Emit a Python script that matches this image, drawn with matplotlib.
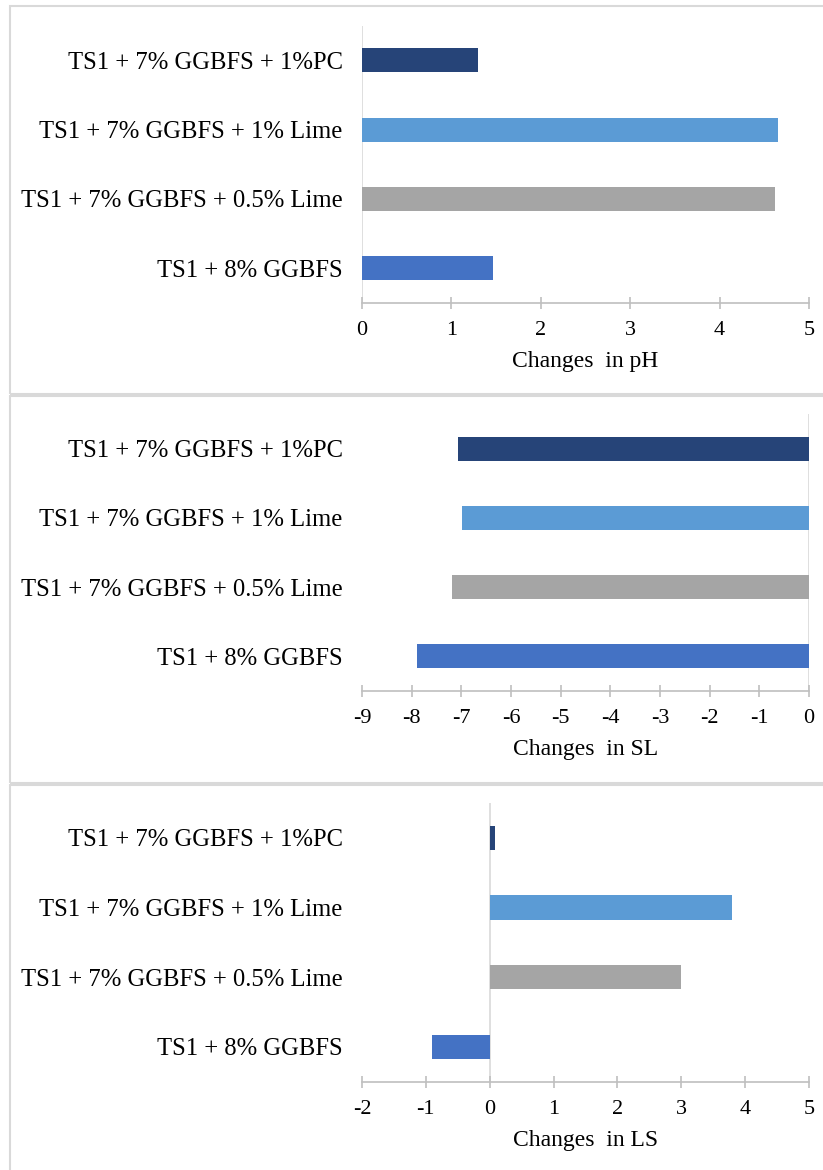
import matplotlib
matplotlib.use("Agg")
import matplotlib.pyplot as plt
from matplotlib.patches import Rectangle

plt.rcParams['font.family'] = ['Liberation Serif', 'DejaVu Serif']
plt.rcParams['axes.unicode_minus'] = False

# mixes, listed bottom to top as they appear on the chart
mixes = ["TS1 + 8% GGBFS",
         "TS1 + 7% GGBFS + 0.5% Lime",
         "TS1 + 7% GGBFS + 1% Lime",
         "TS1 + 7% GGBFS + 1%PC"]
colors = ["#4472C4", "#A5A5A5", "#5B9BD5", "#264478"]

ph_change = [1.46, 4.62, 4.65, 1.30]
sl_change = [-7.90, -7.19, -6.99, -7.06]
ls_change = [-0.91, 3.00, 3.80, 0.09]

panels = [
    (ph_change, "Changes  in pH", (0, 5), range(0, 6)),
    (sl_change, "Changes  in SL", (-9, 0), range(-9, 1)),
    (ls_change, "Changes  in LS", (-2, 5), range(-2, 6)),
]

W, H = 823, 1170
fig = plt.figure(figsize=(W / 100, H / 100), dpi=100)

# axes boxes in pixels: (top, bottom); boxes around each chart: (top, bottom)
ax_rows = [(25.6, 303), (414, 691), (803, 1081.7)]
frames = [(6, 394), (396, 783), (785, 1200)]
ax_left, ax_right = 362, 809

for (top, bot) in frames:
    fig.patches.append(Rectangle((10 / W, 1 - bot / H), 900 / W, (bot - top) / H,
                                 transform=fig.transFigure, fill=False,
                                 edgecolor="#D9D9D9", linewidth=1.5, zorder=0))

for (vals, label, xlim, ticks), (top, bot) in zip(panels, ax_rows):
    ax = fig.add_axes([ax_left / W, 1 - bot / H, (ax_right - ax_left) / W, (bot - top) / H])
    ax.barh(range(len(mixes)), vals, height=0.345, color=colors, zorder=3)
    ax.set_xlim(*xlim)
    ax.set_ylim(-0.5, 3.5)
    ax.set_xticks(list(ticks))
    ax.set_yticks(range(len(mixes)))
    ax.set_yticklabels(mixes)
    ax.axvline(0, color="#D9D9D9", linewidth=1.2, zorder=1)
    for s in ("top", "right", "left"):
        ax.spines[s].set_visible(False)
    ax.spines["bottom"].set_color("#BFBFBF")
    ax.spines["bottom"].set_linewidth(1.2)
    ax.tick_params(axis="y", length=0, pad=14, labelsize=17.7)
    ax.tick_params(axis="x", direction="inout", length=8, width=1.2,
                   color="#BFBFBF", pad=9, labelsize=16)
    ax.set_xlabel(label, fontsize=17, labelpad=8)
    ax.patch.set_alpha(0)

fig.savefig("out.png", dpi=100)
